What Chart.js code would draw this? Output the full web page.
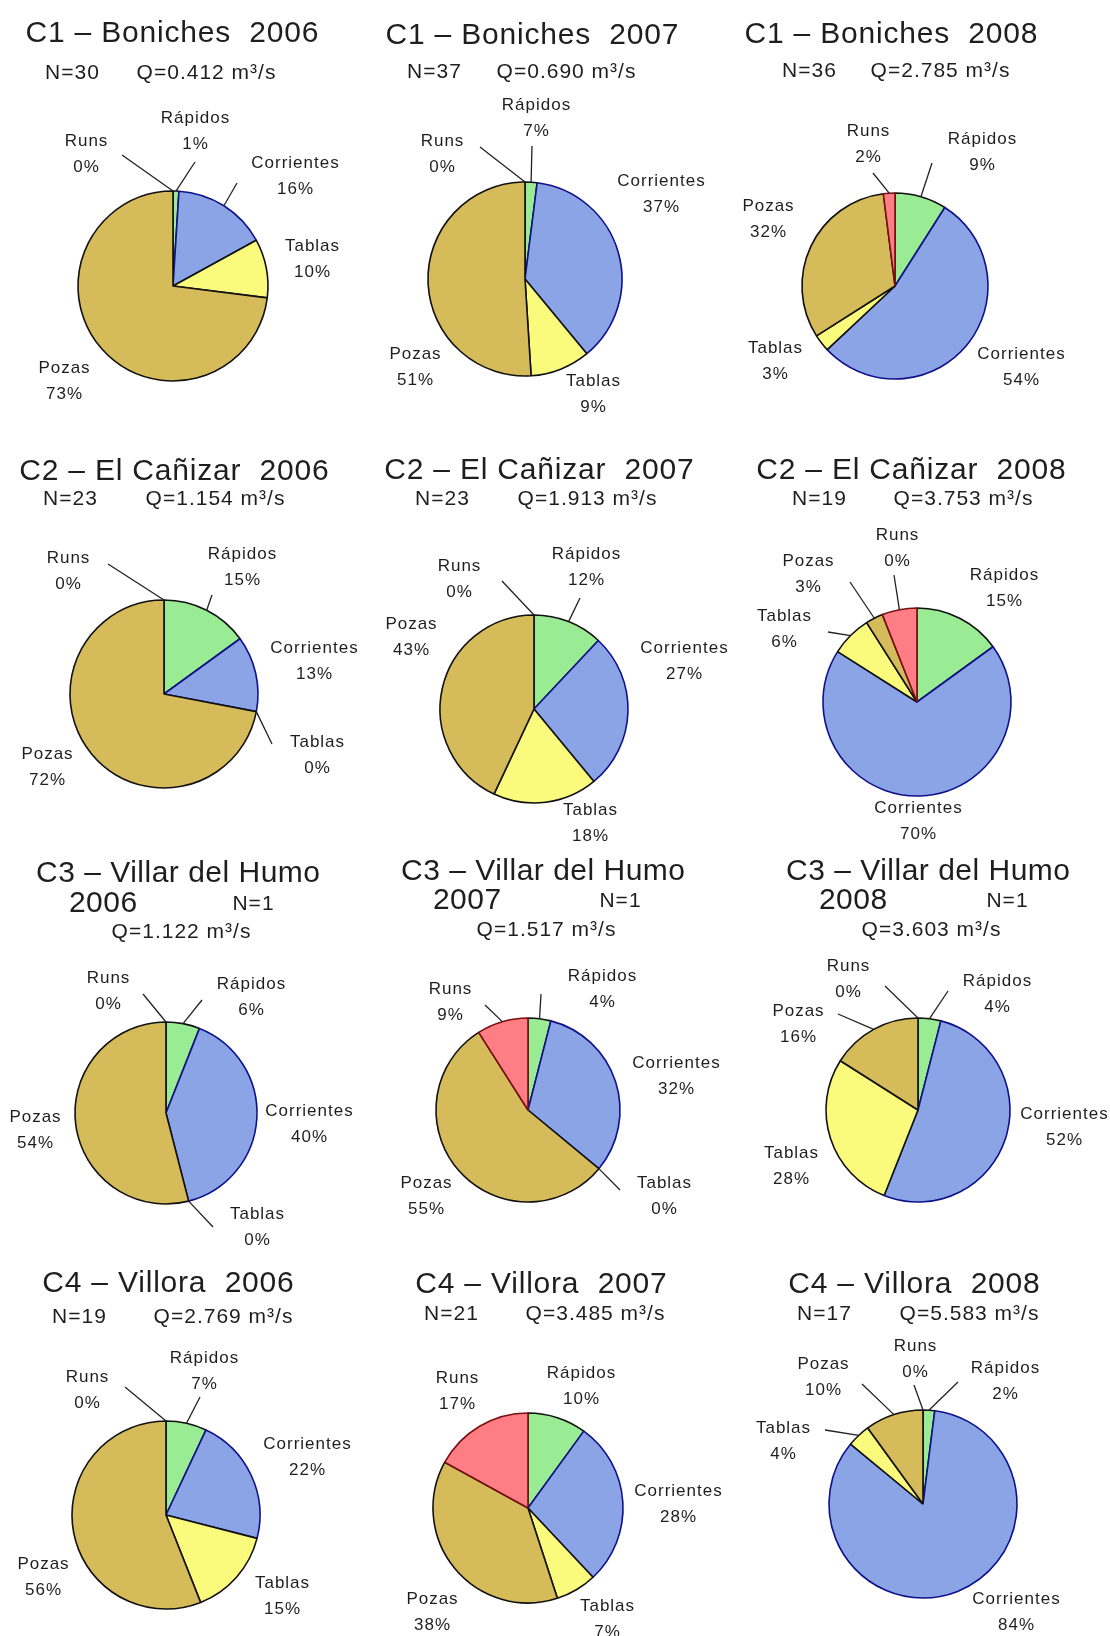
<!DOCTYPE html>
<html><head><meta charset="utf-8">
<script src="https://cdn.jsdelivr.net/npm/chart.js@4.4.1/dist/chart.umd.min.js"></script>
<style>
html,body{margin:0;padding:0;background:#fff;}
#page{position:relative;width:1110px;height:1636px;overflow:hidden;background:#fff;}
#page canvas{position:absolute;}
</style></head><body><div id="page"></div>
<script>
// ---------- DATA ----------
const categories = ['Rápidos','Corrientes','Tablas','Pozas','Runs'];
const sites = ['C1 – Boniches','C2 – El Cañizar','C3 – Villar del Humo','C4 – Villora'];
const years = ['2006','2007','2008'];
const nSamples = [30,37,36, 23,23,19, 1,1,1, 19,21,17];
const flows = ['0.412','0.690','2.785', '1.154','1.913','3.753', '1.122','1.517','3.603', '2.769','3.485','5.583'];

// slice shares as drawn (%), order: Rápidos, Corrientes, Tablas, Pozas, Runs
const sharesC1_2006 = [1,16,10,73,0];
const sharesC1_2007 = [2,37,10,51,0];
const sharesC1_2008 = [9,54,3,32,2];
const sharesC2_2006 = [15,13,0,72,0];
const sharesC2_2007 = [12,27,18,43,0];
const sharesC2_2008 = [15,69,7,3,6];
const sharesC3_2006 = [6,40,0,54,0];
const sharesC3_2007 = [4,32,0,55,9];
const sharesC3_2008 = [4,52,28,16,0];
const sharesC4_2006 = [7,22,15,56,0];
const sharesC4_2007 = [10,28,7,38,17];
const sharesC4_2008 = [2,84,4,10,0];

// printed percentage labels
const pctC1_2006 = [1,16,10,73,0];
const pctC1_2007 = [7,37,9,51,0];
const pctC1_2008 = [9,54,3,32,2];
const pctC2_2006 = [15,13,0,72,0];
const pctC2_2007 = [12,27,18,43,0];
const pctC2_2008 = [15,70,6,3,0];
const pctC3_2006 = [6,40,0,54,0];
const pctC3_2007 = [4,32,0,55,9];
const pctC3_2008 = [4,52,28,16,0];
const pctC4_2006 = [7,22,15,56,0];
const pctC4_2007 = [10,28,7,38,17];
const pctC4_2008 = [2,84,4,10,0];

const allShares = [sharesC1_2006,sharesC1_2007,sharesC1_2008,sharesC2_2006,sharesC2_2007,sharesC2_2008,
  sharesC3_2006,sharesC3_2007,sharesC3_2008,sharesC4_2006,sharesC4_2007,sharesC4_2008];
const allPct = [pctC1_2006,pctC1_2007,pctC1_2008,pctC2_2006,pctC2_2007,pctC2_2008,
  pctC3_2006,pctC3_2007,pctC3_2008,pctC4_2006,pctC4_2007,pctC4_2008];

// ---------- STYLE / LAYOUT ----------
const fillColors = ['#9aec94','#8aa4e6','#fafa7c','#d6bb5a','#ff7e86'];
const edgeColors = ['#111111','#10108a','#111111','#111111','#7a1010'];
const FONT = '"Liberation Sans", Arial, Helvetica, sans-serif';
const TXT = '#1e1e1e';

const rowTops = [0,418,840,1248];
const colLefts = [0,370,740];
const colWidth = 370;
const pageHeight = 1636;

// pie centre and radius (page px)
const pieGeom = [
  [173,286,95],[525,279,97],[895,286,93],
  [164,694,94],[534,709,94],[917,702,94],
  [166,1113,91],[528,1110,92],[918,1110,92],
  [166,1515,94],[528,1508,95],[923,1504,94]
];
// title text positions (page px): [titleX,titleY, NX,NY, QX,QY, yearX,yearY]
const titlePos = [
  [172,31, 72,71, 206,71],
  [532,33, 434,70, 566,70],
  [891,32, 809,69, 940,69],
  [174,469, 70,497, 215,497],
  [539,468, 442,497, 587,497],
  [911,468, 819,497, 963,497],
  [178,871, 253,902, 181,930, 103,901],
  [543,869, 620,899, 546,928, 467,898],
  [928,869, 1007,899, 931,928, 853,898],
  [168,1281, 79,1315, 223,1315],
  [541,1282, 451,1312, 595,1312],
  [914,1282, 824,1312, 969,1312]
];
// data-label positions [x,y] per category, and leader-line end points (or null)
const labelPos = [
  [[195,117],[295,162],[312,245],[64,367],[86,140]],
  [[536,104],[661,180],[593,380],[415,353],[442,140]],
  [[982,138],[1021,353],[775,347],[768,205],[868,130]],
  [[242,553],[314,647],[317,741],[47,753],[68,557]],
  [[586,553],[684,647],[590,809],[411,623],[459,565]],
  [[1004,574],[918,807],[784,615],[808,560],[897,534]],
  [[251,983],[309,1110],[257,1213],[35,1116],[108,977]],
  [[602,975],[676,1062],[664,1182],[426,1182],[450,988]],
  [[997,980],[1064,1113],[791,1152],[798,1010],[848,965]],
  [[204,1357],[307,1443],[282,1582],[43,1563],[87,1376]],
  [[581,1372],[678,1490],[607,1605],[432,1598],[457,1377]],
  [[1005,1367],[1016,1598],[783,1427],[823,1363],[915,1345]]
];
const leadEnds = [
  [[195,162],[237,183],null,null,[122,155]],
  [[532,146],null,null,null,[480,147]],
  [[932,163],null,null,null,[873,173]],
  [[212,595],null,[272,744],null,[108,564]],
  [[580,598],null,null,null,[502,581]],
  [null,null,[828,632],[850,582],[894,575]],
  [[202,1000],null,[213,1227],null,[143,994]],
  [[541,994],null,[620,1190],null,[485,1005]],
  [[948,991],null,null,[838,1014],[885,986]],
  [[200,1397],null,null,null,[125,1387]],
  [null,null,null,null,null],
  [[958,1382],null,[825,1430],[862,1384],[914,1385]]
];

// ---------- PLUGIN ----------
function drawText(ctx, s, x, y, size, ls){
  ctx.font = size + 'px ' + FONT;
  ctx.letterSpacing = ls + 'px';
  ctx.fillText(s, x + ls/2, y + size*0.358);
}
const annotPlugin = {
  id: 'annot',
  afterDraw(chart, args, o){
    const ctx = chart.ctx;
    const ox = o.ox, oy = o.oy;
    ctx.save();
    ctx.fillStyle = TXT;
    ctx.textAlign = 'center';
    ctx.textBaseline = 'alphabetic';
    o.texts.forEach(t => drawText(ctx, t.s, t.x - ox, t.y - oy, t.size, t.ls));
    const meta = chart.getDatasetMeta(0);
    ctx.strokeStyle = '#222';
    ctx.lineWidth = 1.3;
    o.leads.forEach((e, i) => {
      if (!e) return;
      const p = meta.data[i].getProps(['x','y','startAngle','endAngle','outerRadius'], true);
      const m = (p.startAngle + p.endAngle) / 2;
      const sx = p.x + Math.cos(m) * p.outerRadius, sy = p.y + Math.sin(m) * p.outerRadius;
      ctx.beginPath();
      ctx.moveTo(sx, sy);
      ctx.lineTo(e[0] - ox, e[1] - oy);
      ctx.stroke();
    });
    o.labels.forEach((L, i) => {
      drawText(ctx, categories[i], L[0] - ox, L[1] - oy, 17, 1);
      drawText(ctx, o.pct[i] + '%', L[0] - ox, L[1] + 26 - oy, 17, 1);
    });
    ctx.restore();
  }
};

// ---------- BUILD ----------
const page = document.getElementById('page');
for (let k = 0; k < 12; k++) {
  const row = Math.floor(k / 3), col = k % 3;
  const ox = colLefts[col], oy = rowTops[row], w = colWidth;
  const h = (row < 3 ? rowTops[row + 1] + 40 : pageHeight) - oy;
  const cv = document.createElement('canvas');
  cv.width = w; cv.height = h;
  cv.style.left = ox + 'px'; cv.style.top = oy + 'px';
  cv.style.width = w + 'px'; cv.style.height = h + 'px';
  page.appendChild(cv);

  const [cx, cy, r] = pieGeom[k];
  const bw = 1.6, rr = r + bw / 2;
  const padding = { left: cx - ox - rr, top: cy - oy - rr, right: w - (cx - ox + rr), bottom: h - (cy - oy + rr) };

  const tp = titlePos[k];
  const texts = [];
  if (row === 2) {
    texts.push({ s: sites[row], x: tp[0], y: tp[1], size: 30, ls: 0.5 });
    texts.push({ s: years[col], x: tp[6], y: tp[7], size: 30, ls: 0.5 });
  } else {
    texts.push({ s: sites[row] + '  ' + years[col], x: tp[0], y: tp[1], size: 30, ls: 0.8 });
  }
  texts.push({ s: 'N=' + nSamples[k], x: tp[2], y: tp[3], size: 21, ls: 1 });
  texts.push({ s: 'Q=' + flows[k] + ' m³/s', x: tp[4], y: tp[5], size: 21, ls: 1 });

  new Chart(cv, {
    type: 'pie',
    data: {
      labels: categories,
      datasets: [{
        data: allShares[k],
        backgroundColor: fillColors,
        borderColor: edgeColors,
        borderWidth: bw
      }]
    },
    options: {
      responsive: false,
      devicePixelRatio: 1,
      animation: false,
      events: [],
      layout: { padding },
      plugins: {
        legend: { display: false },
        tooltip: { enabled: false },
        annot: { ox, oy, texts, labels: labelPos[k], leads: leadEnds[k], pct: allPct[k] }
      }
    },
    plugins: [annotPlugin]
  });
}
</script>
</body></html>
